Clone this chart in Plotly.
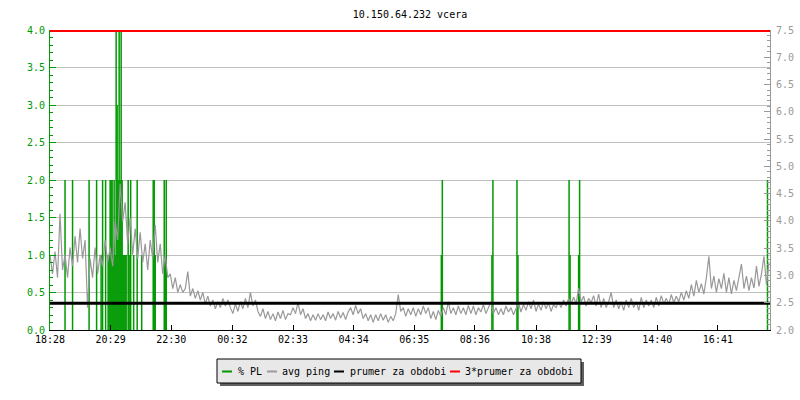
import plotly.graph_objects as go
import pandas as pd

# ---------------- data ----------------
title_text = "10.150.64.232 vcera"
start_time = "2024-05-01 18:28"
end_time = "2024-05-02 18:25"
sample_step = "5min"

tick_labels = ["18:28", "20:29", "22:30", "00:32", "02:33", "04:34",
               "06:35", "08:36", "10:38", "12:39", "14:40", "16:41"]

# avg ping (right axis), one value every 5 minutes, one row per 2 hours
ping_1828 = [3.38, 3.03, 3.44, 2.96, 4.13, 3.10, 3.38, 2.96, 3.51, 3.17, 3.72, 3.24,
             3.86, 3.31, 3.65, 2.41, 3.31, 2.96, 3.51, 3.03, 3.38, 3.17, 3.65, 3.24]
ping_2028 = [3.51, 3.17, 3.99, 3.65, 4.68, 3.99, 4.34, 3.58, 4.06, 3.38, 3.86, 3.31,
             3.79, 3.24, 3.58, 3.10, 3.65, 3.31, 3.93, 3.24, 3.58, 3.03, 3.38, 2.96]
ping_2228 = [3.03, 2.76, 2.96, 2.69, 2.83, 2.69, 2.76, 3.07, 2.62, 2.76, 2.58, 2.72,
             2.55, 2.69, 2.48, 2.62, 2.44, 2.55, 2.39, 2.52, 2.41, 2.58, 2.44, 2.55]
ping_0028 = [2.41, 2.30, 2.48, 2.34, 2.52, 2.39, 2.58, 2.41, 2.69, 2.44, 2.55, 2.34,
             2.25, 2.39, 2.21, 2.34, 2.19, 2.30, 2.17, 2.33, 2.21, 2.36, 2.19, 2.30]
ping_0228 = [2.28, 2.41, 2.30, 2.50, 2.28, 2.39, 2.21, 2.30, 2.17, 2.28, 2.18, 2.30,
             2.19, 2.28, 2.17, 2.33, 2.21, 2.30, 2.18, 2.34, 2.22, 2.32, 2.19, 2.33]
ping_0428 = [2.41, 2.28, 2.45, 2.30, 2.39, 2.21, 2.30, 2.17, 2.28, 2.14, 2.28, 2.17,
             2.30, 2.18, 2.28, 2.14, 2.25, 2.17, 2.30, 2.65, 2.34, 2.41, 2.25, 2.39]
ping_0628 = [2.28, 2.41, 2.25, 2.39, 2.28, 2.44, 2.30, 2.41, 2.21, 2.34, 2.19, 2.36,
             2.25, 2.41, 2.28, 2.52, 2.30, 2.41, 2.28, 2.44, 2.30, 2.41, 2.28, 2.45]
ping_0828 = [2.30, 2.44, 2.28, 2.41, 2.33, 2.47, 2.30, 2.41, 2.52, 2.30, 2.41, 2.28,
             2.39, 2.28, 2.44, 2.33, 2.41, 2.28, 2.39, 2.50, 2.33, 2.47, 2.36, 2.52]
ping_1028 = [2.39, 2.55, 2.34, 2.48, 2.36, 2.52, 2.39, 2.50, 2.34, 2.47, 2.41, 2.52,
             2.41, 2.55, 2.44, 2.58, 2.48, 2.60, 2.48, 2.77, 2.52, 2.62, 2.44, 2.58]
ping_1228 = [2.50, 2.63, 2.44, 2.66, 2.41, 2.58, 2.41, 2.52, 2.69, 2.41, 2.55, 2.39,
             2.52, 2.36, 2.55, 2.41, 2.58, 2.41, 2.52, 2.36, 2.60, 2.41, 2.55, 2.44]
ping_1428 = [2.55, 2.41, 2.60, 2.44, 2.63, 2.48, 2.58, 2.47, 2.65, 2.50, 2.62, 2.52,
             2.69, 2.55, 2.72, 2.58, 2.83, 2.62, 2.91, 2.69, 2.85, 2.66, 2.96, 3.35]
ping_1628 = [2.76, 2.99, 2.69, 2.94, 2.76, 3.04, 2.69, 2.96, 2.66, 2.91, 2.72, 2.96,
             3.21, 2.76, 2.99, 2.72, 2.96, 2.77, 3.17, 2.80, 3.03, 3.35, 2.83, 3.24]

# packet loss events (left axis)
pl_times = ["18:58", "19:13", "19:46", "20:01", "20:10", "20:13", "20:19", "20:24",
            "20:26", "20:28", "20:30", "20:32", "20:34", "20:36", "20:38", "20:40",
            "20:42", "20:44", "20:46", "20:48", "20:50", "20:52", "20:54", "20:56",
            "20:58", "21:00", "21:04", "21:06", "21:09", "21:15", "21:22", "21:31",
            "21:54", "21:56", "21:58", "22:16", "22:18", "22:20",
            "07:29", "07:31", "09:10", "09:12", "10:00", "10:02", "11:44", "11:46",
            "12:03", "12:05", "18:20"]
pl_values = [2, 2, 2, 2, 1, 2, 2, 1,
             1, 2, 2, 2, 1, 2, 1, 4,
             3, 2, 4, 2, 4, 2, 1, 1,
             1, 1, 2, 1, 2, 1, 2, 1,
             2, 2, 1, 2, 1, 2,
             1, 2, 1, 2, 2, 1, 2, 1,
             1, 2, 2]

avg_ping = 2.49          # prumer za obdobi
avg_ping_x3 = 7.48       # 3*prumer za obdobi

legend_names = ["% PL", "avg ping", "prumer za obdobi", "3*prumer za obdobi"]
legend_colors = ["#009900", "#999999", "#000000", "#ff0000"]

# ---------------- build ----------------
W, H = 800, 400
ML, MR, MT, MB = 50, 30, 30, 70
FONT = "DejaVu Sans Mono"

ping = (ping_1828 + ping_2028 + ping_2228 + ping_0028 + ping_0228 + ping_0428 +
        ping_0628 + ping_0828 + ping_1028 + ping_1228 + ping_1428 + ping_1628)
ping_t = pd.date_range(start_time, periods=len(ping), freq=sample_step)

t0 = pd.Timestamp(start_time)


def clock_to_ts(hm):
    d = pd.Timestamp(t0.strftime("%Y-%m-%d") + " " + hm)
    if d < t0:
        d = d + pd.Timedelta(days=1)
    return d


tick_vals = [clock_to_ts(s) for s in tick_labels]

imp_x, imp_y = [], []
for t, v in zip(pl_times, pl_values):
    ts = clock_to_ts(t)
    imp_x += [ts, ts, None]
    imp_y += [0, v, None]

fig = go.Figure()
fig.add_trace(go.Scatter(x=imp_x, y=imp_y, mode="lines", yaxis="y",
                         line=dict(color=legend_colors[0], width=1.5),
                         name=legend_names[0], hoverinfo="skip"))
fig.add_trace(go.Scatter(x=ping_t, y=ping, mode="lines", yaxis="y2",
                         line=dict(color=legend_colors[1], width=1.2),
                         name=legend_names[1]))
fig.add_trace(go.Scatter(x=[start_time, end_time], y=[avg_ping, avg_ping],
                         mode="lines", yaxis="y2",
                         line=dict(color=legend_colors[2], width=3),
                         name=legend_names[2]))
fig.add_trace(go.Scatter(x=[start_time, end_time], y=[avg_ping_x3, avg_ping_x3],
                         mode="lines", yaxis="y2",
                         line=dict(color=legend_colors[3], width=2),
                         name=legend_names[3]))

pw, ph = W - ML - MR, H - MT - MB


def px_x(px):
    return (px - ML) / pw


def px_y(py):
    return (H - MB - py) / ph


shapes = [
    dict(type="rect", xref="paper", yref="paper",
         x0=px_x(220), x1=px_x(584), y0=px_y(386), y1=px_y(362),
         fillcolor="#606060", line=dict(width=0)),
    dict(type="rect", xref="paper", yref="paper",
         x0=px_x(217), x1=px_x(581), y0=px_y(383), y1=px_y(359),
         fillcolor="#e8e8e8", line=dict(color="black", width=1)),
]
annotations = []
sample_x = [222, 267, 334, 450]
text_x = [236, 280, 348, 463]
for name, col, sx, tx in zip(legend_names, legend_colors, sample_x, text_x):
    shapes.append(dict(type="line", xref="paper", yref="paper",
                       x0=px_x(sx), x1=px_x(sx + 10), y0=px_y(371.5), y1=px_y(371.5),
                       line=dict(color=col, width=2)))
    annotations.append(dict(text=name, xref="paper", yref="paper",
                            x=px_x(tx), y=px_y(371), xanchor="left", yanchor="middle",
                            showarrow=False, font=dict(family=FONT, size=10, color="black")))

fig.update_layout(
    template="none",
    width=W, height=H,
    margin=dict(l=ML, r=MR, t=MT, b=MB, pad=0),
    paper_bgcolor="white", plot_bgcolor="white",
    font=dict(family=FONT, size=10, color="black"),
    showlegend=False,
    title=dict(text=title_text, x=0.5, xref="paper", xanchor="center",
               y=1 - 14 / H, yref="container", yanchor="middle",
               font=dict(family=FONT, size=10, color="black")),
    xaxis=dict(type="date", range=[start_time, end_time],
               tickmode="array", tickvals=tick_vals, ticktext=tick_labels,
               ticks="inside", ticklen=5, tickcolor="black", tickwidth=1,
               showline=True, linecolor="black", linewidth=1,
               showgrid=False, zeroline=False,
               tickfont=dict(family=FONT, size=10, color="black")),
    yaxis=dict(range=[0, 4], tick0=0, dtick=0.5, tickformat=".1f",
               ticks="inside", ticklen=6, tickcolor="#009900", tickwidth=1,
               showline=True, linecolor="#009900", linewidth=1,
               showgrid=True, gridcolor="#c0c0c0", gridwidth=1, zeroline=False,
               ticklabelstandoff=2,
               tickfont=dict(family=FONT, size=10, color="#009900"),
               minor=dict(dtick=0.1, ticks="inside", ticklen=3,
                          tickcolor="#009900", showgrid=False)),
    yaxis2=dict(overlaying="y", side="right", range=[2, 7.5], tick0=2, dtick=0.5,
                tickformat=".1f", anchor="x",
                ticks="inside", ticklen=6, tickcolor="#999999", tickwidth=1,
                showline=True, linecolor="#999999", linewidth=1,
                showgrid=False, zeroline=False,
                ticklabelstandoff=3,
                tickfont=dict(family=FONT, size=10, color="#999999"),
                minor=dict(dtick=0.1, ticks="inside", ticklen=3,
                           tickcolor="#999999", showgrid=False)),
    shapes=shapes,
    annotations=annotations,
)

fig.write_html("out.html", config={"displayModeBar": False},
               post_script="document.body.style.margin='0';")
